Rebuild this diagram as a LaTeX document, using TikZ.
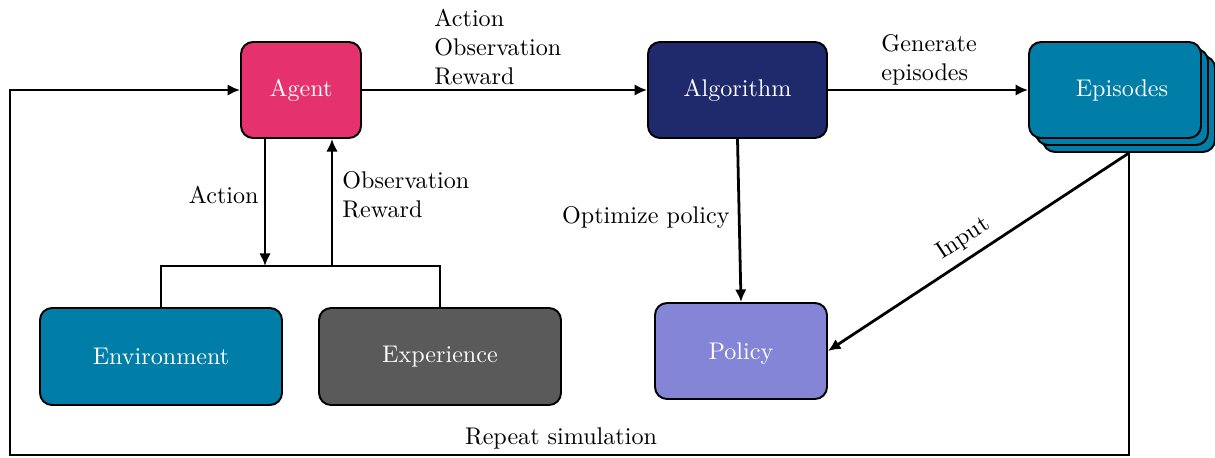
\documentclass[tikz,border=0pt]{standalone}
\usetikzlibrary{arrows.meta}
\definecolor{cagent}{HTML}{E5316E}
\definecolor{calgo}{HTML}{1E2A6B}
\definecolor{cteal}{HTML}{007EA8}
\definecolor{cgray}{HTML}{5A5A5A}
\definecolor{cpolicy}{HTML}{8585D8}
\newcommand\U{0.41481pt}
\begin{document}
\begin{tikzpicture}[x=0.41481pt,y=-0.41481pt,
  box/.style={draw=black,line width=0.8pt,rounded corners=5pt,text=white,inner sep=0pt,
    minimum height=96*\U},
  conn/.style={line width=1.15pt,-{Latex[length=5.2pt,width=4.8pt]}},
  plain/.style={line width=1.15pt},
  lbl/.style={inner sep=0pt,align=left}]
\useasboundingbox (0,0) rectangle (1215,457);
% nodes
\node[box,fill=cagent,minimum width=120*\U] (Agent) at (301,90) {Agent};
\node[box,fill=calgo,minimum width=179*\U] (Algorithm) at (737.5,90) {Algorithm};
\node[box,fill=cteal,minimum width=172*\U] (ep3) at (1129,104) {};
\node[box,fill=cteal,minimum width=172*\U] (ep2) at (1122,97) {};
\node[box,fill=cteal,minimum width=172*\U] (Episodes) at (1115,90) {\hspace*{5.8pt}Episodes};
\node[box,fill=cteal,minimum width=242*\U,minimum height=97*\U] (Environment) at (161,356.5) {Environment};
\node[box,fill=cgray,minimum width=242*\U,minimum height=97*\U] (Experience) at (440,356.5) {Experience};
\node[box,fill=cpolicy,minimum width=172*\U,text depth=0pt] (Policy) at (741,351) {Policy};
% coordinates
\coordinate (j1) at (265,266);
\coordinate (j2) at (332,266);
\coordinate (lb) at (1129,455);
\coordinate (ll) at (10,455);
\coordinate (lt) at (10,90);
% connectors
\draw[conn] (Agent.east) -- (Algorithm.west);
\node[lbl,anchor=west] (l1) at (434,47) {Action\\Observation\\Reward};
\draw[conn] (Algorithm.east) -- (Episodes.west);
\node[lbl,anchor=west] (l2) at (881,59.5) {Generate\\episodes};
\draw[conn] (Agent.south -| j1) -- (j1);
\node[lbl,anchor=east] (l3) at (259,195) {Action};
\draw[conn] (j2) -- (Agent.south -| j2);
\node[lbl,anchor=west] (l4) at (342,195) {Observation\\Reward};
\draw[plain] (Environment.north) -- (Environment.north |- j1) -- (Experience.north |- j1) -- (Experience.north);
\draw[conn] (Algorithm.south) -- (Policy.north);
\node[lbl,anchor=east] (l5) at (730,217) {Optimize policy};
\draw[conn] (ep3.south) -- node[pos=0.515,sloped,above,inner sep=3pt] {Input} (Policy.east);
\draw[conn] (ep3.south) -- (lb) -- (ll) -- (lt) -- (Agent.west);
\node[lbl] (l6) at (561,438) {Repeat simulation};
\end{tikzpicture}
\end{document}
